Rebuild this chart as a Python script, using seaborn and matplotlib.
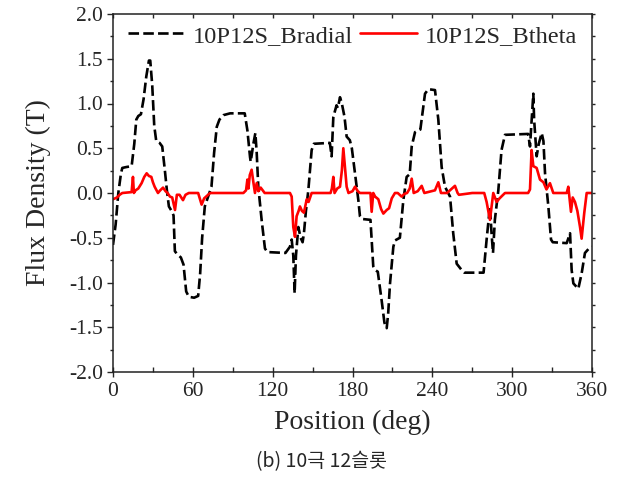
import matplotlib
matplotlib.use("Agg")
import matplotlib.pyplot as plt
import seaborn as sns
import pandas as pd
from matplotlib.ticker import MultipleLocator, FormatStrFormatter

# ---------------- data ----------------
radial_deg = [0, 2, 4, 6, 7, 10, 14, 16, 17.5, 19, 21, 23, 25, 27, 28, 29.5, 31, 32.5, 35, 37,
              39, 40.5, 42, 44, 45.5, 46.5, 48, 51, 53, 55, 57, 61, 64, 65.5, 67, 69, 71.5, 74,
              76, 78, 80, 83, 88, 99, 101, 102, 103, 103.5, 105.5, 107, 108, 109.2, 111.7, 114.2,
              116, 129.6, 133, 134.3, 135.5, 136.5, 137.5, 139.3, 141, 142.5, 143.5, 145, 146.8,
              149.3, 151, 163, 164.3, 165.6, 168, 169, 170.6, 172, 174, 175.6, 178, 179.5, 181.9,
              184.4, 185.6, 187, 193.5, 194.4, 195.6, 197, 199, 201.9, 204, 205.7, 206.8, 208.2,
              210.7, 212, 215.6, 218.2, 220.7, 223, 224.5, 227, 231, 234.5, 237, 242, 244.5, 247,
              249.5, 253.3, 255.7, 258.3, 262, 264, 278.5, 280.8, 283.3, 284.5, 285.6, 287, 289.6,
              292, 294.6, 312, 313.4, 315, 315.9, 316.5, 318.4, 320, 322.2, 323.5, 324.7, 327.2,
              329.2, 330.5, 341, 343.5, 344.7, 346, 349.7, 352.2, 354.7, 357.7, 360]
radial_val = [-0.58, -0.35, 0.0, 0.22, 0.28, 0.29, 0.30, 0.55, 0.82, 0.86, 0.88, 1.05, 1.30, 1.48, 1.48,
              1.20, 0.75, 0.58, 0.56, 0.52, 0.25, 0.03, -0.15, -0.20, -0.25, -0.65, -0.68, -0.72,
              -0.80, -1.10, -1.16, -1.17, -1.15, -0.90, -0.50, -0.15, -0.04, 0.07, 0.45, 0.74, 0.82,
              0.87, 0.89, 0.89, 0.70, 0.55, 0.40, 0.35, 0.55, 0.67, 0.45, 0.07, -0.30, -0.62, -0.66,
              -0.67, -0.60, -0.52, -0.70, -1.12, -0.70, -0.38, -0.50, -0.55, -0.45, -0.20, 0.03,
              0.48, 0.55, 0.56, 0.41, 0.85, 0.98, 0.95, 1.07, 1.00, 0.85, 0.63, 0.59, 0.50, 0.22,
              -0.08, -0.26, -0.29, -0.30, -0.52, -0.82, -0.86, -0.88, -1.20, -1.45, -1.51, -1.35,
              -1.01, -0.60, -0.53, -0.50, -0.08, 0.18, 0.21, 0.52, 0.68, 0.71, 1.11, 1.16, 1.15,
              0.82, 0.29, 0.07, -0.04, -0.45, -0.79, -0.86, -0.89, -0.89, -0.52, -0.15, -0.45,
              -0.67, -0.30, 0.03, 0.48, 0.65, 0.66, 0.52, 0.90, 1.11, 0.82, 0.41, 0.55, 0.67, 0.58,
              0.22, -0.15, -0.52, -0.55, -0.56, -0.45, -0.86, -1.01, -1.07, -0.90, -0.67, -0.62,
              -0.60]

theta_deg = [0, 3, 5, 7, 14, 15, 15.7, 17, 19, 21.5, 23.5, 25.3, 27, 28.8, 30, 31.3, 33.8, 35.5,
             37.6, 39.5, 41, 42.8, 44.5, 46.6, 48, 50, 52.6, 54.5, 57, 64, 66.6, 68.5, 70, 73, 98,
             100, 101, 101.8, 102.8, 104.2, 105.5, 106.7, 108, 109.3, 111, 112.5, 114, 133, 134.3,
             135.5, 136.8, 138, 139.5, 140.5, 142, 143.5, 145.6, 147, 149.3, 163.5, 164.5, 165.6,
             166.5, 168.5, 170.6, 172, 173.1, 174, 175.6, 177, 180, 181.9, 184, 185.6, 193.5, 194.4,
             195.6, 197, 199.4, 201.5, 203.2, 205, 205.7, 207.5, 209.5, 211.9, 214, 216.9, 219,
             221, 223, 224.5, 226, 229, 232, 234, 242, 244.5, 246.5, 251, 254, 257, 259, 260, 270,
             279, 280.8, 283.3, 285.8, 288.3, 290.5, 294.6, 312, 313.4, 314.6, 315.9, 318.4, 320.9,
             323.5, 325.8, 328.4, 330.9, 341, 342.2, 344.2, 345.5, 347.2, 349, 351, 352.2, 354.2,
             356, 360]
theta_val = [-0.07, -0.05, -0.02, 0.0, 0.01, 0.18, 0.0, 0.03, 0.05, 0.11, 0.18, 0.22, 0.19, 0.18,
             0.12, 0.07, 0.0, 0.03, 0.06, 0.02, 0.0, -0.04, -0.05, -0.19, -0.02, -0.02, -0.08,
             -0.02, 0.0, 0.0, -0.13, -0.06, -0.04, 0.0, 0.0, 0.03, 0.15, 0.05, 0.20, 0.26, 0.12,
             0.0, 0.11, 0.02, 0.06, 0.03, 0.0, 0.0, -0.04, -0.38, -0.49, -0.26, -0.20, -0.15,
             -0.20, -0.22, -0.07, -0.10, 0.0, 0.0, 0.05, 0.18, 0.0, 0.05, 0.07, 0.25, 0.50, 0.35,
             0.07, 0.0, 0.02, 0.07, 0.02, 0.0, 0.0, -0.21, 0.0, -0.04, -0.07, -0.18, -0.23, -0.20,
             -0.19, -0.17, -0.06, 0.0, 0.0, -0.04, -0.01, 0.0, 0.05, 0.16, 0.0, 0.02, 0.08, 0.0,
             0.03, 0.12, 0.0, 0.0, 0.04, 0.08, 0.0, -0.02, 0.0, 0.0, -0.10, -0.30, 0.0, -0.10,
             -0.06, 0.0, 0.0, 0.04, 0.48, 0.30, 0.28, 0.15, 0.12, 0.04, 0.11, 0.0, 0.0, 0.07,
             -0.21, -0.05, -0.10, -0.20, -0.38, -0.51, -0.22, 0.0, 0.0]

series_labels = ["10P12S_Bradial", "10P12S_Btheta"]
x_ticks = [0, 60, 120, 180, 240, 300, 360]
y_ticks = [-2.0, -1.5, -1.0, -0.5, 0.0, 0.5, 1.0, 1.5, 2.0]
x_label = "Position (deg)"
y_label = "Flux Density (T)"
caption = "(b) 10극 12슬롯"

# ---------------- style ----------------
sns.set_style("ticks")
plt.rcParams["font.family"] = ["Liberation Serif", "DejaVu Serif"]
plt.rcParams["axes.unicode_minus"] = False

fig = plt.figure(figsize=(6.18, 4.95), dpi=100)
ax = fig.add_axes([113 / 618, 1 - 372 / 495, 479 / 618, 358 / 495])

df_r = pd.DataFrame({"deg": radial_deg, "val": radial_val})
df_t = pd.DataFrame({"deg": theta_deg, "val": theta_val})

sns.lineplot(data=df_r, x="deg", y="val", ax=ax, color="black", lw=1.9,
             linestyle=(0, (4, 1.6)), sort=False, estimator=None, label=series_labels[0])
sns.lineplot(data=df_t, x="deg", y="val", ax=ax, color="#ff0000", lw=1.9,
             sort=False, estimator=None, label=series_labels[1])

ax.set_xlim(0, 360)
ax.set_ylim(-2.0, 2.0)
ax.set_xticks(x_ticks)
ax.set_yticks(y_ticks)
ax.xaxis.set_minor_locator(MultipleLocator(30))
ax.yaxis.set_minor_locator(MultipleLocator(0.25))
ax.yaxis.set_major_formatter(FormatStrFormatter("%.1f"))

for s in ax.spines.values():
    s.set_linewidth(1.1)
    s.set_color("#222222")

ax.tick_params(axis="x", which="major", direction="inout", length=7, width=1.0,
               labelsize=15.5, pad=4, top=False)
ax.tick_params(axis="x", which="minor", direction="in", length=3.5, width=1.0, top=False)
ax.tick_params(axis="y", which="major", direction="out", length=4, width=1.0,
               labelsize=15.5, pad=3, right=False)
ax.tick_params(axis="y", which="minor", direction="out", length=2.5, width=1.0, right=False)

# top and right ticks
secx = ax.secondary_xaxis("top")
secx.set_xticks(list(range(0, 361, 30)))
secx.tick_params(direction="in", length=3, width=1.0, labeltop=False)
secx.spines["top"].set_visible(False)
secy = ax.secondary_yaxis("right")
secy.set_yticks([v / 4 for v in range(-8, 9)])
secy.tick_params(direction="out", length=2.5, width=1.0, labelright=False)
secy.spines["right"].set_visible(False)

ax.set_xlabel(x_label, fontsize=20, labelpad=6)
ax.set_ylabel(y_label, fontsize=20, labelpad=13)

ax.legend(loc="upper left", bbox_to_anchor=(0.0, 1.0 + 4 / 358), ncol=2, frameon=False,
          fontsize=17.6, handlelength=2.35, handletextpad=0.3, columnspacing=0.3,
          borderpad=0.3, borderaxespad=0.3)

fig.text(322 / 618, 1 - 462 / 495, caption, ha="center", va="center", fontsize=14,
         family=["Noto Sans CJK KR", "DejaVu Sans"])

fig.savefig("out.png", dpi=100)
